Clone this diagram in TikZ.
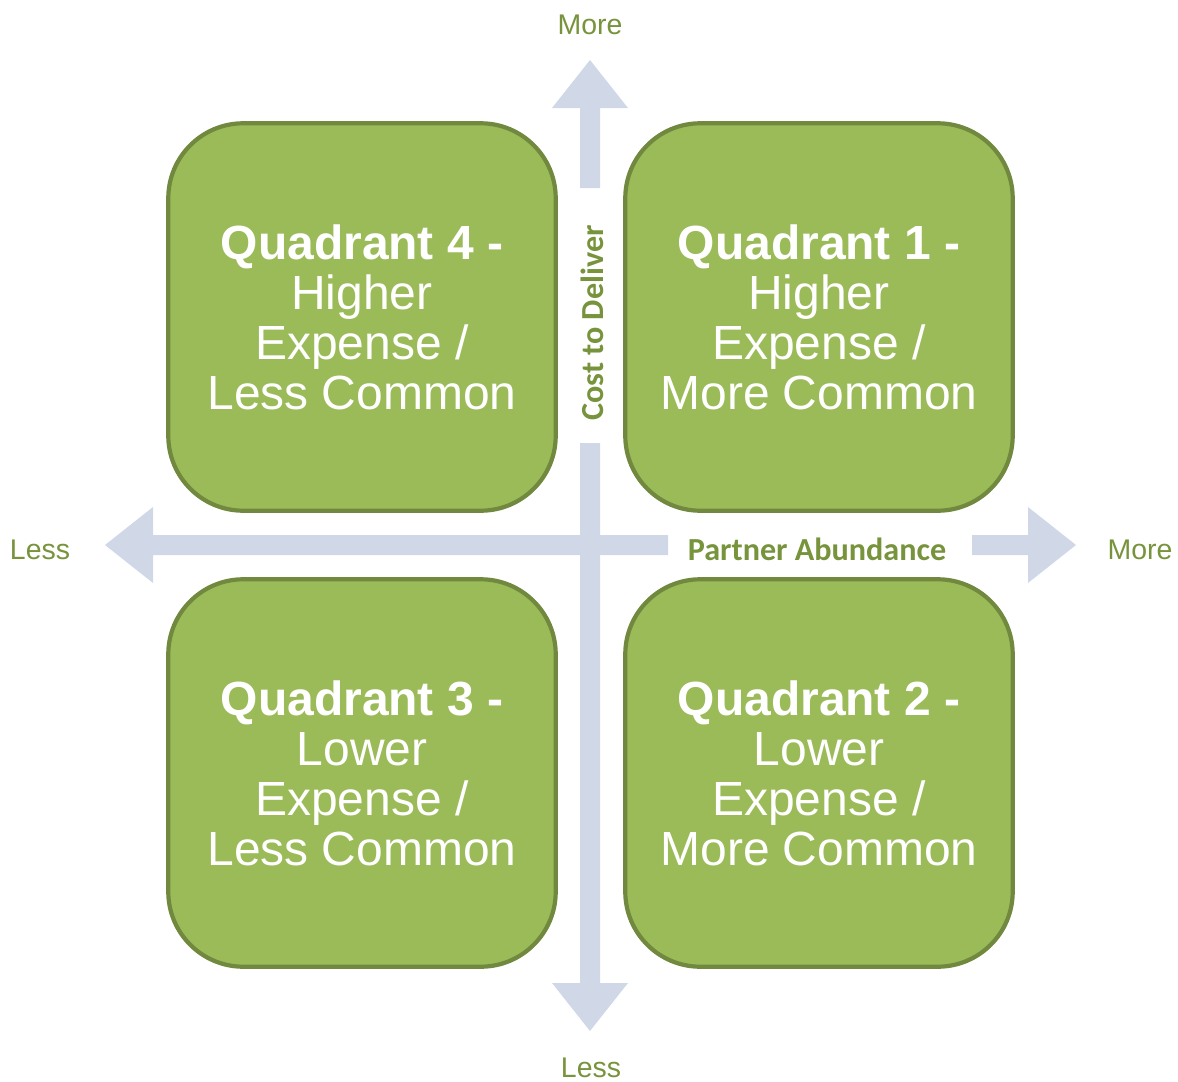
\documentclass[tikz,border=0pt]{standalone}
\usepackage{fontspec}
\setmainfont{Liberation Sans}
\newfontfamily\axisfont{Carlito}
\definecolor{quadfill}{HTML}{9BBB59}
\definecolor{quadline}{HTML}{71893F}
\definecolor{axisfill}{HTML}{D0D8E8}
\definecolor{labelgreen}{HTML}{77933C}
\tikzset{
	quad/.style={draw=quadline, fill=quadfill, line width=2.4pt, rounded corners=1.5cm,
		minimum width=7.75cm, minimum height=7.75cm, text=white, align=center,
		font=\fontsize{27.3}{28.5}\selectfont},
	endlabel/.style={text=labelgreen, inner sep=0pt, font=\fontsize{16.2}{18}\selectfont},
	axislabel/.style={text=labelgreen, inner sep=0pt, font=\axisfont\bfseries\fontsize{18.3}{20}\selectfont},
	axis/.style={fill=axisfill}
}
\begin{document}
\begin{tikzpicture}[x=0.02cm, y=-0.02cm]
	\useasboundingbox (0, 0) rectangle (1178, 1082);
	% axes
	\fill[axis] (580, 188) -- (580, 108) -- (552, 108) -- (590, 60) -- (628, 108) -- (600, 108) -- (600, 188) -- cycle;
	\fill[axis] (580, 443) -- (580, 983) -- (552, 983) -- (590, 1031) -- (628, 983) -- (600, 983) -- (600, 443) -- cycle;
	\fill[axis] (668, 535) -- (153, 535) -- (153, 507) -- (105, 545) -- (153, 583) -- (153, 555) -- (668, 555) -- cycle;
	\fill[axis] (972, 535) -- (1028, 535) -- (1028, 507) -- (1076, 545) -- (1028, 583) -- (1028, 555) -- (972, 555) -- cycle;
	\node[axislabel, rotate=90] (cost) at (592, 323) {Cost to Deliver};
	\node[axislabel] (abundance) at (817, 549) {Partner Abundance};
	\node[endlabel] (moretop) at (590, 25) {More};
	\node[endlabel] (lessbottom) at (591, 1068) {Less};
	\node[endlabel] (lessleft) at (40, 550) {Less};
	\node[endlabel] (moreright) at (1140, 550) {More};
	% quadrants
	\foreach \name/\cx/\cy/\num/\lvl/\freq in {q4/362/317/4/Higher/Less, q1/819/317/1/Higher/More,
		q3/362/773/3/Lower/Less, q2/819/773/2/Lower/More}
		\node[quad] (\name) at (\cx, \cy) {\textbf{Quadrant \num\ -}\\\lvl\\Expense /\\\freq\ Common};
\end{tikzpicture}
\end{document}
